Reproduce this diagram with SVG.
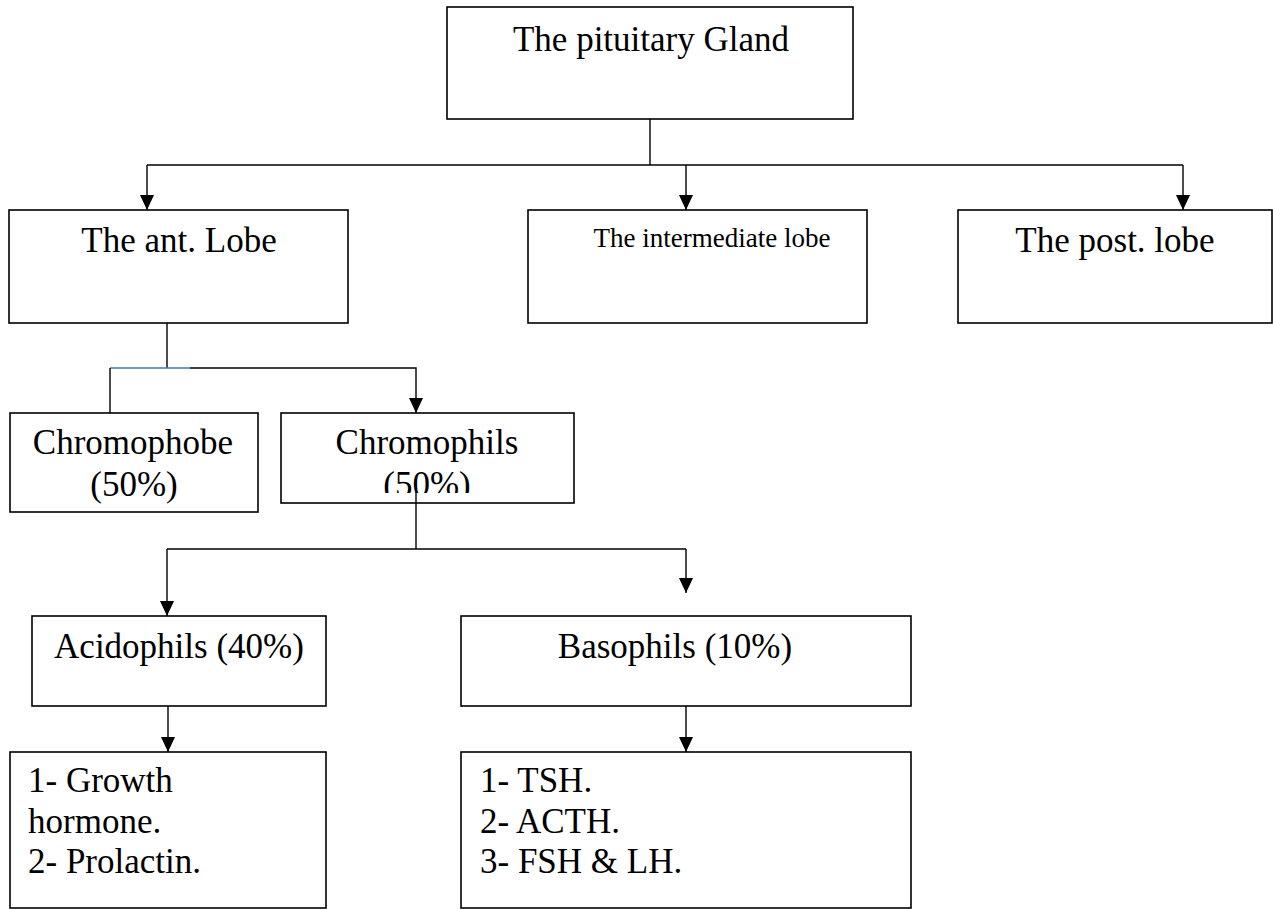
<svg xmlns="http://www.w3.org/2000/svg" width="1273" height="909" viewBox="0 0 1273 909">
<style>
.box{fill:#fff;stroke:#000;stroke-width:1.6}
.ln{fill:none;stroke:#000;stroke-width:1.4}
text{font-family:'Liberation Serif','Times New Roman','DejaVu Serif',serif;font-size:35px;fill:#000}
.c{text-anchor:middle}
</style>
<defs>
<marker id="a" markerUnits="userSpaceOnUse" markerWidth="15" markerHeight="14" refX="15" refY="7" orient="auto" viewBox="0 0 15 14">
<path d="M0,0 L15,7 L0,14 Z" fill="#000"/>
</marker>
<clipPath id="cp"><rect x="281" y="413" width="293" height="80"/></clipPath>
</defs>
<g id="connectors">
<line class="ln" x1="650" y1="119" x2="650" y2="165"/>
<line class="ln" x1="147" y1="165" x2="1183" y2="165"/>
<line class="ln" x1="147" y1="165" x2="147" y2="210" marker-end="url(#a)"/>
<line class="ln" x1="686" y1="165" x2="686" y2="210" marker-end="url(#a)"/>
<line class="ln" x1="1183" y1="165" x2="1183" y2="210" marker-end="url(#a)"/>
<line class="ln" x1="167" y1="323" x2="167" y2="368"/>
<line x1="110" y1="368" x2="190" y2="368" stroke="#4472c4" stroke-width="1.4"/>
<line class="ln" x1="110" y1="368" x2="110" y2="413"/>
<polyline class="ln" points="190,368 416,368 416,413" marker-end="url(#a)"/>
<line class="ln" x1="167" y1="549" x2="686" y2="549"/>
<line class="ln" x1="167" y1="549" x2="167" y2="616" marker-end="url(#a)"/>
<line class="ln" x1="686" y1="549" x2="686" y2="593" marker-end="url(#a)"/>
<line class="ln" x1="168" y1="706" x2="168" y2="752" marker-end="url(#a)"/>
<line class="ln" x1="686" y1="706" x2="686" y2="752" marker-end="url(#a)"/>
</g>
<g id="pituitary">
<rect class="box" x="447" y="7" width="406" height="112"/>
<text class="c" x="651" y="51" font-family="Liberation Serif, serif">The pituitary Gland</text>
</g>
<g id="ant-lobe">
<rect class="box" x="9" y="210" width="339" height="113"/>
<text class="c" x="179" y="252">The ant. Lobe</text>
</g>
<g id="intermediate-lobe">
<rect class="box" x="528" y="210" width="339" height="113"/>
<text class="c" x="712" y="247" style="font-size:27px">The intermediate lobe</text>
</g>
<g id="post-lobe">
<rect class="box" x="958" y="210" width="314" height="113"/>
<text class="c" x="1115" y="252">The post. lobe</text>
</g>
<g id="chromophobe">
<rect class="box" x="10" y="413" width="248" height="99"/>
<text class="c" x="133" y="454">Chromophobe</text>
<text class="c" x="134" y="496">(50%)</text>
</g>
<g id="chromophils">
<rect class="box" x="281" y="413" width="293" height="90"/>
<text class="c" x="427" y="454">Chromophils</text>
<text class="c" x="427" y="496" clip-path="url(#cp)">(50%)</text>
</g>
<g id="connector-chromophils">
<line class="ln" x1="416" y1="485" x2="416" y2="549"/>
</g>
<g id="acidophils">
<rect class="box" x="32" y="616" width="294" height="90"/>
<text class="c" x="179" y="658">Acidophils (40%)</text>
</g>
<g id="basophils">
<rect class="box" x="461" y="616" width="450" height="90"/>
<text class="c" x="675" y="658">Basophils (10%)</text>
</g>
<g id="acid-hormones">
<rect class="box" x="10" y="752" width="316" height="156"/>
<text x="28" y="792">1- Growth</text>
<text x="28" y="833">hormone.</text>
<text x="28" y="873">2- Prolactin.</text>
</g>
<g id="baso-hormones">
<rect class="box" x="461" y="752" width="450" height="156"/>
<text x="480" y="792">1- TSH.</text>
<text x="480" y="833">2- ACTH.</text>
<text x="480" y="873">3- FSH &amp; LH.</text>
</g>
</svg>
